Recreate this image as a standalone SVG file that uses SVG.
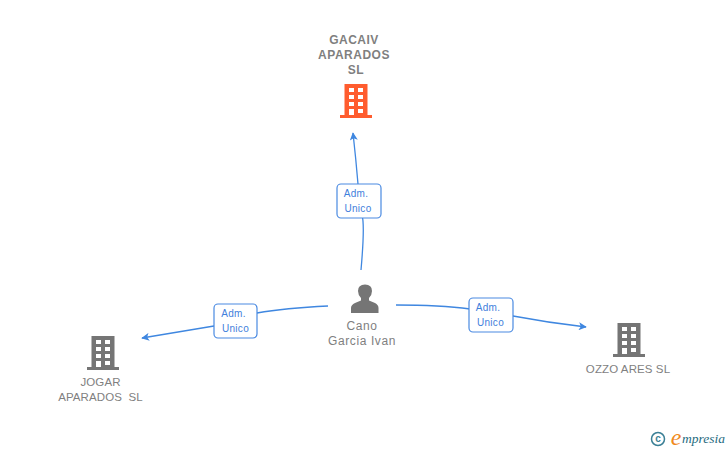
<svg xmlns="http://www.w3.org/2000/svg" width="728" height="450" viewBox="0 0 728 450">
<defs>
<style>
text{font-family:"Liberation Sans",Arial,sans-serif;text-anchor:middle}
.n{font-size:11.500px;fill:#7f7f7f;letter-spacing:.1px}
.p{font-size:12px;fill:#7f7f7f;letter-spacing:.6px}
.b{font-weight:bold;font-size:12px;fill:#7f7f7f;letter-spacing:.5px}
.l{font-size:10px;fill:#3f80dc;letter-spacing:.3px}
.c{fill:none;stroke:#3f87e0;stroke-width:1.300}
.box{fill:#fff;stroke:#4a8ae2;stroke-width:1.200}
.win{fill:#fff}
</style>
<marker id="a" viewBox="0 0 10 10" refX="9" refY="5" markerWidth="8" markerHeight="8" markerUnits="userSpaceOnUse" orient="auto"><path d="M0 0L10 5L0 10L2.500 5Z" fill="#3f87e0"/></marker>
<g id="bld">
<path d="M-11.500 -17H11.500V14H16V17H-16V14H-11.500Z"/>
<path class="win" d="M-7 -13H-2V-9H-7ZM2 -13H7V-9H2ZM-7 -6H-2V-2H-7ZM2 -6H7V-2H2ZM-7 1H-2V5H-7ZM2 1H7V5H2ZM-7 8H-2V14H-7ZM2 8H7V12H2Z"/>
</g>
</defs>
<rect width="728" height="450" fill="#fff"/>
<g id="connectors">
<path class="c" d="M361 270Q365 225 362 215M358 184Q356 160 353 133" marker-end="url(#a)"/>
<path class="c" d="M328 306Q285 308 257 313M214 326L142 338" marker-end="url(#a)"/>
<path class="c" d="M396 305Q440 305 470 309M513 316Q550 323 586 327" marker-end="url(#a)"/>
</g>
<g id="edge-top"><rect class="box" x="337" y="184" width="44" height="34" rx="4"/><text class="l" x="356" y="197">Adm.</text><text class="l" x="358" y="212">Unico</text></g>
<g id="edge-left"><rect class="box" x="214" y="304" width="43" height="34" rx="4"/><text class="l" x="233.500" y="317">Adm.</text><text class="l" x="235.500" y="332">Unico</text></g>
<g id="edge-right"><rect class="box" x="469" y="298" width="44" height="34" rx="4"/><text class="l" x="488" y="311">Adm.</text><text class="l" x="490.500" y="326">Unico</text></g>
<g id="node-gacaiv">
<text class="b" x="354" y="44">GACAIV</text><text class="b" x="354" y="59">APARADOS</text><text class="b" x="356" y="74">SL</text>
<use href="#bld" x="356" y="101" fill="#ff5c2e"/>
</g>
<g id="node-cano">
<path fill="#757575" d="M351 313V308Q351 305 355 303L361 300.500V298Q358 295 358 291Q358 284.500 365 284.500Q372 284.500 372 291Q372 295 369 298V300.500L375 303Q378.500 305 378.500 308V313Z"/>
<text class="p" x="362" y="330">Cano</text><text class="p" x="362" y="345">Garcia Ivan</text>
</g>
<g id="node-jogar">
<use href="#bld" x="103" y="353" fill="#757575"/>
<text class="n" x="100.500" y="386">JOGAR</text><text class="n" x="100.500" y="401" xml:space="preserve">APARADOS  SL</text>
</g>
<g id="node-ozzo">
<use href="#bld" x="629" y="340" fill="#757575"/>
<text class="n" x="628" y="373">OZZO ARES SL</text>
</g>
<g id="logo">
<circle cx="658" cy="439" r="6.500" fill="none" stroke="#3a7f95" stroke-width="1.500"/>
<text x="658" y="442" font-size="10" font-weight="bold" fill="#3a7f95">c</text>
<text x="676" y="445" font-size="24" fill="#f08a1d" style="font-family:'Liberation Serif',serif;font-style:italic">e</text>
<text x="703.500" y="443" font-size="13.500" fill="#1f6b80" style="font-family:'Liberation Serif',serif;font-style:italic">mpresia</text>
</g>
</svg>
